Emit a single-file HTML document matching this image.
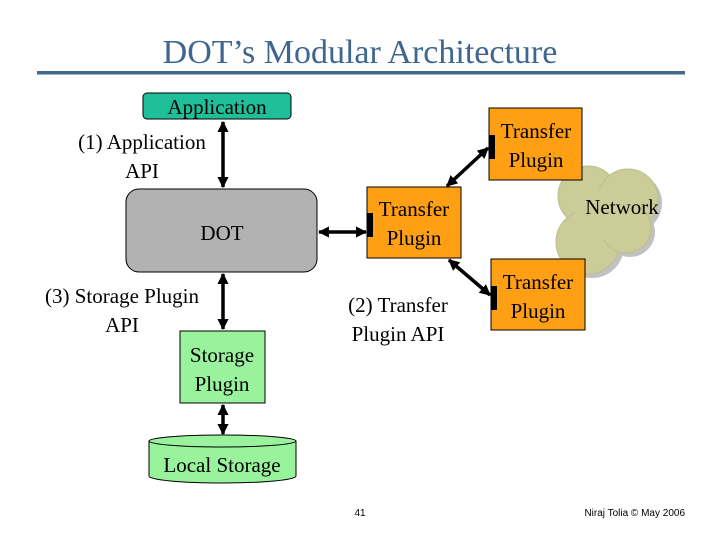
<!DOCTYPE html>
<html><head><meta charset="utf-8"><style>
html,body{margin:0;padding:0;background:#fff;}
svg{display:block;}
text{font-family:"Liberation Serif",serif;}
</style></head><body>
<svg width="720" height="540" viewBox="0 0 720 540" xmlns="http://www.w3.org/2000/svg">
<defs>
<marker id="a" viewBox="0 0 10 10" refX="9" refY="5" markerWidth="3.2" markerHeight="3.2" orient="auto-start-reverse"><path d="M0,0 L10,5 L0,10 z" fill="#000"/></marker>
</defs>
<text x="360" y="63" font-size="34" fill="#3f6690" text-anchor="middle">DOT’s Modular Architecture</text>
<rect x="37" y="71" width="648" height="3.5" fill="#42688f"/>

<!-- Network cloud -->
<g fill="#999" opacity="0.6">
<circle cx="592" cy="200" r="30"/><circle cx="632" cy="203" r="30"/><circle cx="592" cy="246" r="32"/><circle cx="630" cy="232" r="25"/>
</g>
<g fill="#cccc99" stroke="#bdbd90" stroke-width="1">
<circle cx="588" cy="196" r="30"/><circle cx="628" cy="199" r="30"/><circle cx="588" cy="242" r="32"/><circle cx="626" cy="228" r="25"/>
</g>
<rect x="575" y="190" width="60" height="50" fill="#cccc99"/>
<text x="622" y="214" font-size="21" text-anchor="middle">Network</text>

<!-- Application -->
<rect x="143" y="93" width="148" height="26" rx="4" fill="#1fbf9a" stroke="#000" stroke-width="1"/>
<text x="217" y="114" font-size="21" text-anchor="middle">Application</text>
<text x="142" y="149" font-size="21" text-anchor="middle">(1) Application</text>
<text x="142" y="178" font-size="21" text-anchor="middle">API</text>

<!-- DOT -->
<rect x="126" y="189" width="191" height="83" rx="13" fill="#b2b2b2" stroke="#000" stroke-width="1"/>
<text x="222" y="240" font-size="21" text-anchor="middle">DOT</text>

<text x="122" y="303" font-size="21" text-anchor="middle">(3) Storage Plugin</text>
<text x="122" y="332" font-size="21" text-anchor="middle">API</text>

<!-- Storage plugin -->
<rect x="180" y="331" width="85" height="72" fill="#99f29c" stroke="#000" stroke-width="1"/>
<text x="222" y="362" font-size="21" text-anchor="middle">Storage</text>
<text x="222" y="391" font-size="21" text-anchor="middle">Plugin</text>

<!-- Cylinder -->
<path d="M149,441 L149,476 A73.5,7 0 0 0 296,476 L296,441" fill="#99f29c" stroke="#000" stroke-width="1"/>
<ellipse cx="222.5" cy="441" rx="73.5" ry="6" fill="#99f29c" stroke="#000" stroke-width="1"/>
<text x="222" y="472" font-size="21" text-anchor="middle">Local Storage</text>

<!-- Transfer plugins -->
<rect x="367" y="187" width="94" height="71" fill="#ff9f14" stroke="#000" stroke-width="1"/>
<rect x="367" y="213" width="6" height="24" fill="#000"/>
<text x="414" y="216" font-size="21" text-anchor="middle">Transfer</text>
<text x="414" y="245" font-size="21" text-anchor="middle">Plugin</text>

<rect x="489" y="108" width="93" height="72" fill="#ff9f14" stroke="#000" stroke-width="1"/>
<rect x="489" y="135" width="6" height="24" fill="#000"/>
<text x="536" y="138" font-size="21" text-anchor="middle">Transfer</text>
<text x="536" y="167" font-size="21" text-anchor="middle">Plugin</text>

<rect x="491" y="259" width="94" height="71" fill="#ff9f14" stroke="#000" stroke-width="1"/>
<rect x="491" y="286" width="6" height="24" fill="#000"/>
<text x="538" y="289" font-size="21" text-anchor="middle">Transfer</text>
<text x="538" y="318" font-size="21" text-anchor="middle">Plugin</text>

<text x="398" y="312" font-size="21" text-anchor="middle">(2) Transfer</text>
<text x="398" y="341" font-size="21" text-anchor="middle">Plugin API</text>

<!-- arrows -->
<g stroke="#000" stroke-width="3.5" marker-start="url(#a)" marker-end="url(#a)">
<line x1="223" y1="122" x2="223" y2="187"/>
<line x1="319" y1="232" x2="366" y2="232"/>
<line x1="223" y1="274" x2="223" y2="329"/>
<line x1="223" y1="405" x2="223" y2="434"/>
<line x1="447" y1="186" x2="488" y2="148"/>
<line x1="449" y1="260" x2="490" y2="295"/>
</g>

<text x="360" y="516" font-size="10" font-family="Liberation Sans, sans-serif" style="font-family:'Liberation Sans',sans-serif" text-anchor="middle">41</text>
<text x="685" y="516" font-size="10" style="font-family:'Liberation Sans',sans-serif" text-anchor="end">Niraj Tolia © May 2006</text>
</svg>
</body></html>
